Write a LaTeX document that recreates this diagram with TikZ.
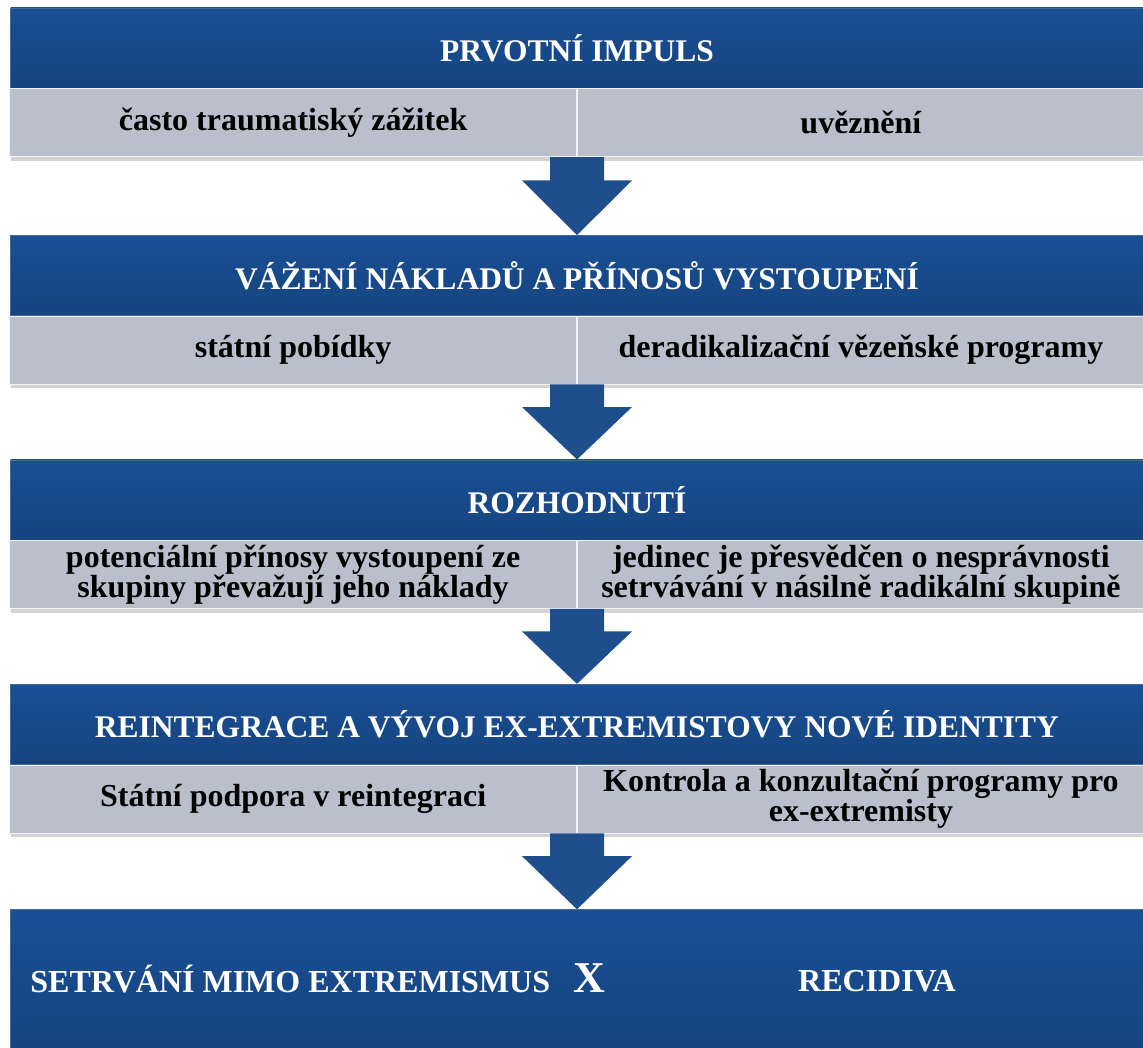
\documentclass[tikz,border=0pt]{standalone}
\usepackage{fontspec}
\setmainfont{Liberation Serif}
\usepackage{tikz}
\usetikzlibrary{positioning}
\usetikzlibrary{calc}
\usetikzlibrary{shadows}
\definecolor{headblue}{RGB}{25,79,148}
\definecolor{headdark}{RGB}{22,68,128}
\definecolor{cellgray}{RGB}{186,191,203}
\definecolor{arrowblue}{RGB}{30,78,140}
\tikzset{
    flow chart/.style={
            x=1pt,y=1pt,
            header/.style={minimum width=1133pt,minimum height=80pt,inner sep=0pt,
                top color=headblue,bottom color=headdark,draw=headdark!80!white,line width=0.6pt,
                text=white,font=\fontsize{31.5}{33}\selectfont\bfseries},
            cell/.style={minimum width=567pt,minimum height=68pt,inner sep=0pt,
                fill=cellgray,draw=white!80!cellgray,line width=0.8pt,align=center,
                drop shadow={shadow xshift=1pt,shadow yshift=-4pt,opacity=0.35},
                text=black,font=\fontsize{32}{29}\selectfont\bfseries},
            outtext/.style={text=white,inner sep=0pt,font=\fontsize{32}{33}\selectfont\bfseries}
        }
    }
% block arrow from one box down to the next
\newcommand{\flowdown}[2]{
    \fill[arrowblue] ($(#1)+(-27,0)$) -- ($(#1)+(27,0)$) -- ($(#1)!0.3!(#2)+(27,0)$)
        -- ($(#1)!0.3!(#2)+(55,0)$) -- (#2) -- ($(#1)!0.3!(#2)+(-55,0)$)
        -- ($(#1)!0.3!(#2)+(-27,0)$) -- cycle;
}

\begin{document}
\begin{tikzpicture}[flow chart]
    \useasboundingbox (0,0) rectangle (1143,-1048);
    % 1
    \node[header] (impuls) at (577,-48) {PRVOTNÍ IMPULS};
    \node[cell, anchor=north east] (trauma) at (impuls.south) {často traumatiský zážitek};
    \node[cell, anchor=north west] (vezeni) at (impuls.south) {uvěznění};
    % 2
    \node[header, below=78pt of impuls.south |- trauma.south] (vazeni) {VÁŽENÍ NÁKLADŮ A PŘÍNOSŮ VYSTOUPENÍ};
    \node[cell, anchor=north east] (pobidky) at (vazeni.south) {státní pobídky};
    \node[cell, anchor=north west] (programy) at (vazeni.south) {deradikalizační vězeňské programy};
    % 3
    \node[header, below=75pt of vazeni.south |- pobidky.south] (rozhodnuti) {ROZHODNUTÍ};
    \node[cell, anchor=north east] (prinosy) at (rozhodnuti.south) {potenciální přínosy vystoupení ze\\skupiny převažují jeho náklady};
    \node[cell, anchor=north west] (presvedcen) at (rozhodnuti.south) {jedinec je přesvědčen o nesprávnosti\\setrvávání v násilně radikální skupině};
    % 4
    \node[header, below=75pt of rozhodnuti.south |- prinosy.south] (reintegrace) {REINTEGRACE A VÝVOJ EX-EXTREMISTOVY NOVÉ IDENTITY};
    \node[cell, anchor=north east] (podpora) at (reintegrace.south) {Státní podpora v reintegraci};
    \node[cell, anchor=north west] (kontrola) at (reintegrace.south) {Kontrola a konzultační programy pro\\ex-extremisty};
    % 5
    \node[header, minimum height=145pt, anchor=north] (vysledek) at ($(reintegrace.south |- podpora.south)+(0,-76)$) {};
    \node[outtext, anchor=west] (setrvani) at ($(vysledek.west)+(20,3)$) {SETRVÁNÍ MIMO EXTREMISMUS};
    \node[outtext, font=\fontsize{44}{44}\selectfont\bfseries] (nebo) at ($(vysledek.center)+(12,4)$) {X};
    \node[outtext] (recidiva) at ($(vysledek.center)+(300,1)$) {RECIDIVA};
    % arrows
    \flowdown{impuls.south |- trauma.south}{vazeni.north}
    \flowdown{vazeni.south |- pobidky.south}{rozhodnuti.north}
    \flowdown{rozhodnuti.south |- prinosy.south}{reintegrace.north}
    \flowdown{reintegrace.south |- podpora.south}{vysledek.north}
\end{tikzpicture}
\end{document}
